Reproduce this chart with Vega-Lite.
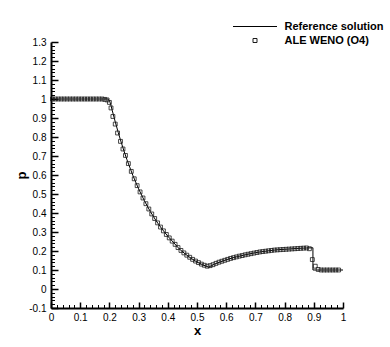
{
  "$schema": "https://vega.github.io/schema/vega-lite/v6.json",
  "width": 292,
  "height": 266,
  "autosize": {"type": "none"},
  "padding": {"left": 51, "top": 42, "right": 47, "bottom": 39},
  "background": "white",
  "config": {"view": {"stroke": null}, "font": "Liberation Sans", "axis": {"grid": false}},
  "datasets": {
    "ref": [
      {"x": 0, "p": 1}, {"x": 0.19, "p": 1}, {"x": 0.196, "p": 0.999}, {"x": 0.2, "p": 0.993},
      {"x": 0.205, "p": 0.968}, {"x": 0.21, "p": 0.938}, {"x": 0.22, "p": 0.88}, {"x": 0.23, "p": 0.825},
      {"x": 0.24, "p": 0.774}, {"x": 0.25, "p": 0.726}, {"x": 0.26, "p": 0.681}, {"x": 0.28, "p": 0.599},
      {"x": 0.3, "p": 0.527}, {"x": 0.32, "p": 0.464}, {"x": 0.34, "p": 0.408}, {"x": 0.36, "p": 0.359},
      {"x": 0.38, "p": 0.316}, {"x": 0.4, "p": 0.278}, {"x": 0.42, "p": 0.244}, {"x": 0.44, "p": 0.21},
      {"x": 0.46, "p": 0.184}, {"x": 0.48, "p": 0.161}, {"x": 0.5, "p": 0.142}, {"x": 0.52, "p": 0.127},
      {"x": 0.54, "p": 0.115}, {"x": 0.56, "p": 0.131}, {"x": 0.58, "p": 0.143}, {"x": 0.6, "p": 0.154},
      {"x": 0.62, "p": 0.163}, {"x": 0.64, "p": 0.171}, {"x": 0.66, "p": 0.178}, {"x": 0.68, "p": 0.185},
      {"x": 0.7, "p": 0.191}, {"x": 0.72, "p": 0.196}, {"x": 0.74, "p": 0.2}, {"x": 0.76, "p": 0.204},
      {"x": 0.78, "p": 0.207}, {"x": 0.8, "p": 0.209}, {"x": 0.82, "p": 0.211}, {"x": 0.84, "p": 0.213},
      {"x": 0.86, "p": 0.215}, {"x": 0.88, "p": 0.216}, {"x": 0.897, "p": 0.217}, {"x": 0.8971, "p": 0.1},
      {"x": 1.0, "p": 0.1}
    ],
    "weno": [
      {"x": 0.005, "p": 1}, {"x": 0.015, "p": 1}, {"x": 0.025, "p": 1}, {"x": 0.035, "p": 1},
      {"x": 0.045, "p": 1}, {"x": 0.055, "p": 1}, {"x": 0.065, "p": 1}, {"x": 0.075, "p": 1},
      {"x": 0.085, "p": 1}, {"x": 0.095, "p": 1}, {"x": 0.105, "p": 1}, {"x": 0.115, "p": 1},
      {"x": 0.125, "p": 1}, {"x": 0.135, "p": 1}, {"x": 0.145, "p": 1}, {"x": 0.155, "p": 1},
      {"x": 0.165, "p": 1}, {"x": 0.175, "p": 1}, {"x": 0.184, "p": 0.998}, {"x": 0.192, "p": 0.995},
      {"x": 0.2, "p": 0.982}, {"x": 0.2055, "p": 0.953}, {"x": 0.212, "p": 0.908}, {"x": 0.22, "p": 0.868},
      {"x": 0.228, "p": 0.821}, {"x": 0.238, "p": 0.777}, {"x": 0.2465, "p": 0.737}, {"x": 0.255, "p": 0.703},
      {"x": 0.265, "p": 0.66}, {"x": 0.275, "p": 0.619}, {"x": 0.285, "p": 0.58}, {"x": 0.295, "p": 0.544},
      {"x": 0.305, "p": 0.511}, {"x": 0.315, "p": 0.479}, {"x": 0.325, "p": 0.449}, {"x": 0.335, "p": 0.421},
      {"x": 0.345, "p": 0.395}, {"x": 0.355, "p": 0.371}, {"x": 0.365, "p": 0.348}, {"x": 0.375, "p": 0.326},
      {"x": 0.385, "p": 0.306}, {"x": 0.395, "p": 0.287}, {"x": 0.405, "p": 0.269}, {"x": 0.415, "p": 0.252},
      {"x": 0.425, "p": 0.235}, {"x": 0.435, "p": 0.218}, {"x": 0.445, "p": 0.203}, {"x": 0.455, "p": 0.19},
      {"x": 0.465, "p": 0.178}, {"x": 0.475, "p": 0.167}, {"x": 0.485, "p": 0.156}, {"x": 0.495, "p": 0.147},
      {"x": 0.505, "p": 0.139}, {"x": 0.515, "p": 0.131}, {"x": 0.525, "p": 0.125}, {"x": 0.535, "p": 0.12},
      {"x": 0.545, "p": 0.123}, {"x": 0.555, "p": 0.128}, {"x": 0.565, "p": 0.135}, {"x": 0.575, "p": 0.141},
      {"x": 0.585, "p": 0.146}, {"x": 0.595, "p": 0.151}, {"x": 0.605, "p": 0.156}, {"x": 0.615, "p": 0.161},
      {"x": 0.625, "p": 0.165}, {"x": 0.635, "p": 0.169}, {"x": 0.645, "p": 0.173}, {"x": 0.655, "p": 0.176},
      {"x": 0.665, "p": 0.18}, {"x": 0.675, "p": 0.183}, {"x": 0.685, "p": 0.186}, {"x": 0.695, "p": 0.189},
      {"x": 0.705, "p": 0.192}, {"x": 0.715, "p": 0.195}, {"x": 0.725, "p": 0.197}, {"x": 0.735, "p": 0.199},
      {"x": 0.745, "p": 0.201}, {"x": 0.755, "p": 0.203}, {"x": 0.765, "p": 0.205}, {"x": 0.775, "p": 0.206},
      {"x": 0.785, "p": 0.207}, {"x": 0.795, "p": 0.208}, {"x": 0.805, "p": 0.209}, {"x": 0.815, "p": 0.21},
      {"x": 0.825, "p": 0.211}, {"x": 0.835, "p": 0.212}, {"x": 0.845, "p": 0.213}, {"x": 0.855, "p": 0.214},
      {"x": 0.865, "p": 0.215}, {"x": 0.875, "p": 0.216}, {"x": 0.885, "p": 0.212}, {"x": 0.895, "p": 0.155},
      {"x": 0.905, "p": 0.12}, {"x": 0.915, "p": 0.103}, {"x": 0.925, "p": 0.1}, {"x": 0.935, "p": 0.1},
      {"x": 0.945, "p": 0.1}, {"x": 0.955, "p": 0.1}, {"x": 0.965, "p": 0.1}, {"x": 0.975, "p": 0.1},
      {"x": 0.985, "p": 0.1}
    ]
  },
  "layer": [
    {
      "data": {"name": "ref"},
      "mark": {"type": "line", "strokeWidth": 1},
      "encoding": {
        "x": {
          "field": "x", "type": "quantitative",
          "scale": {"domain": [0, 1], "nice": false, "zero": false},
          "axis": {
            "orient": "bottom",
            "values": [0, 0.1, 0.2, 0.3, 0.4, 0.5, 0.6, 0.7, 0.8, 0.9, 1],
            "labelExpr": "datum.value < 0 ? '-' + format(-datum.value, '~g') : format(datum.value, '~g')",
            "title": "x", "titleFontSize": 13, "titleFontWeight": "bold", "titleColor": "black", "titlePadding": 2,
            "labelFontSize": 10, "labelColor": "black", "labelPadding": 10, "labelFlush": false, "labelOverlap": false,
            "tickSize": -6, "tickWidth": 1.5, "tickColor": "black",
            "domainColor": "black", "domainWidth": 2
          }
        },
        "y": {
          "field": "p", "type": "quantitative",
          "scale": {"domain": [-0.1, 1.3], "nice": false, "zero": false},
          "axis": {
            "orient": "left",
            "values": [-0.1, 0, 0.1, 0.2, 0.3, 0.4, 0.5, 0.6, 0.7, 0.8, 0.9, 1, 1.1, 1.2, 1.3],
            "labelExpr": "datum.value < 0 ? '-' + format(-datum.value, '~g') : format(datum.value, '~g')",
            "title": "p", "titleFontSize": 13, "titleFontWeight": "bold", "titleColor": "black", "titlePadding": 0,
            "labelFontSize": 10, "labelColor": "black", "labelPadding": 12, "labelFlush": false, "labelOverlap": false,
            "tickSize": -7, "tickWidth": 1.5, "tickColor": "black",
            "domainColor": "black", "domainWidth": 2
          }
        },
        "color": {
          "datum": "Reference solution",
          "scale": {"domain": ["Reference solution", "ALE WENO (O4)"], "range": ["#000000", "#1a1a1a"]},
          "legend": {
            "orient": "none", "legendX": 198.5, "legendY": -21, "title": null, "padding": 0,
            "labelFontSize": 11, "labelFontWeight": "bold", "labelColor": "black", "labelOffset": 24,
            "rowPadding": 2, "symbolSize": 64, "symbolStrokeWidth": 1,
            "encode": {
              "symbols": {
                "update": {
                  "shape": {"signal": "datum.value === 'Reference solution' ? 'M-5.5,0H5.5' : 'M-0.5,-0.5H0.5V0.5H-0.5Z'"},
                  "stroke": {"value": "black"},
                  "fill": {"value": "transparent"},
                  "strokeWidth": {"value": 1},
                  "size": {"value": 64},
                  "opacity": {"value": 1}
                }
              }
            }
          }
        }
      }
    },
    {
      "data": {"name": "weno"},
      "mark": {"type": "point", "shape": "square", "size": 15, "filled": false, "strokeWidth": 0.8, "opacity": 1},
      "encoding": {
        "x": {
          "field": "x", "type": "quantitative",
          "axis": {
            "orient": "bottom",
            "values": [0.02, 0.04, 0.06, 0.08, 0.12, 0.14, 0.16, 0.18, 0.22, 0.24, 0.26, 0.28, 0.32, 0.34, 0.36, 0.38, 0.42, 0.44, 0.46, 0.48, 0.52, 0.54, 0.56, 0.58, 0.62, 0.64, 0.66, 0.68, 0.72, 0.74, 0.76, 0.78, 0.82, 0.84, 0.86, 0.88, 0.92, 0.94, 0.96, 0.98],
            "labels": false, "domain": false, "title": null,
            "tickSize": -3.5, "tickWidth": 1, "tickColor": "black"
          }
        },
        "y": {
          "field": "p", "type": "quantitative",
          "axis": {
            "orient": "left",
            "values": [-0.08, -0.06, -0.04, -0.02, 0.02, 0.04, 0.06, 0.08, 0.12, 0.14, 0.16, 0.18, 0.22, 0.24, 0.26, 0.28, 0.32, 0.34, 0.36, 0.38, 0.42, 0.44, 0.46, 0.48, 0.52, 0.54, 0.56, 0.58, 0.62, 0.64, 0.66, 0.68, 0.72, 0.74, 0.76, 0.78, 0.82, 0.84, 0.86, 0.88, 0.92, 0.94, 0.96, 0.98, 1.02, 1.04, 1.06, 1.08, 1.12, 1.14, 1.16, 1.18, 1.22, 1.24, 1.26, 1.28],
            "labels": false, "domain": false, "title": null,
            "tickSize": -3.5, "tickWidth": 1, "tickColor": "black"
          }
        },
        "color": {"datum": "ALE WENO (O4)"}
      }
    }
  ],
  "resolve": {"axis": {"x": "independent", "y": "independent"}}
}
